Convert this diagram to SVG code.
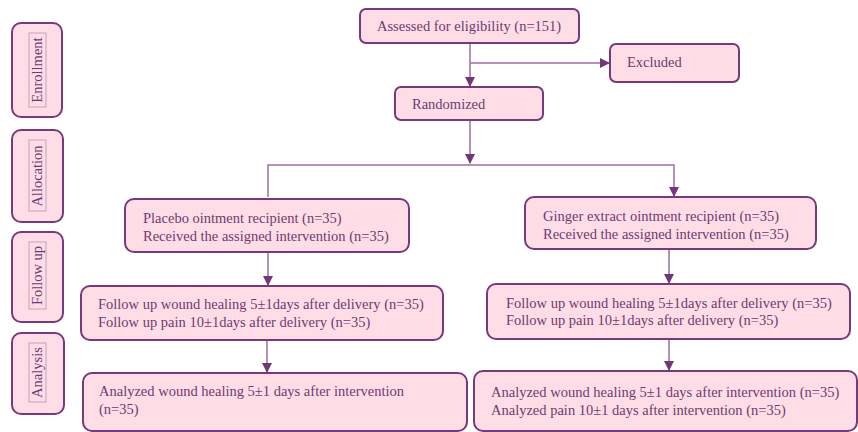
<svg xmlns="http://www.w3.org/2000/svg" width="858" height="432" viewBox="0 0 858 432">
<style>
.box{fill:#FFDDE6;stroke:#76397A;stroke-width:2}
.inner{fill:none;stroke:#A98AAB;stroke-width:0.7}
.t{font-family:"Liberation Serif","Times New Roman",serif;font-size:14.5px;fill:#6E3B70}
.c{fill:none;stroke:#9D6FA0;stroke-width:1.5}
</style>
<defs>
<marker id="ah" markerWidth="10" markerHeight="10" refX="9" refY="5" orient="auto" markerUnits="userSpaceOnUse">
<path d="M0,0 L10,5 L0,10 Z" fill="#74367A"/>
</marker>
</defs>
<rect width="858" height="432" fill="#FFFFFF"/>
<g id="stage-enrollment">
<rect class="box" x="12" y="23" width="50" height="94" rx="9"/>
<rect class="inner" x="29" y="33" width="17" height="74"/>
<text class="t" transform="translate(42,70) rotate(-90)" text-anchor="middle">Enrollment</text>
</g>
<g id="stage-allocation">
<rect class="box" x="12" y="130" width="51" height="92" rx="9"/>
<rect class="inner" x="29" y="140" width="17" height="71"/>
<text class="t" transform="translate(42,176) rotate(-90)" text-anchor="middle">Allocation</text>
</g>
<g id="stage-followup">
<rect class="box" x="12" y="232" width="51" height="90" rx="9"/>
<rect class="inner" x="29" y="242" width="17" height="67"/>
<text class="t" transform="translate(42,275.5) rotate(-90)" text-anchor="middle">Follow up</text>
</g>
<g id="stage-analysis">
<rect class="box" x="12" y="333" width="52" height="81" rx="9"/>
<rect class="inner" x="29" y="343" width="17" height="59"/>
<text class="t" transform="translate(42,372.5) rotate(-90)" text-anchor="middle">Analysis</text>
</g>
<g id="connectors">
<path class="c" d="M470,43 V86" marker-end="url(#ah)"/>
<path class="c" d="M470,63 H609" marker-end="url(#ah)"/>
<path class="c" d="M470,120 V163" marker-end="url(#ah)"/>
<path class="c" d="M268,197 V165 H674 V196" marker-end="url(#ah)"/>
<path class="c" d="M268,252 V285" marker-end="url(#ah)"/>
<path class="c" d="M669,249 V283" marker-end="url(#ah)"/>
<path class="c" d="M267,340 V372" marker-end="url(#ah)"/>
<path class="c" d="M669,339 V370" marker-end="url(#ah)"/>
</g>
<g id="assessed">
<rect class="box" x="360" y="9" width="219" height="34" rx="6"/>
<text class="t" x="377" y="31">Assessed for eligibility (n=151)</text>
</g>
<g id="excluded">
<rect class="box" x="610" y="44" width="129" height="38" rx="6"/>
<text class="t" x="627" y="67">Excluded</text>
</g>
<g id="randomized">
<rect class="box" x="395" y="87" width="148" height="33" rx="6"/>
<text class="t" x="412" y="109">Randomized</text>
</g>
<g id="placebo">
<rect class="box" x="125" y="199" width="284" height="53" rx="9"/>
<text class="t" x="143" y="223">Placebo ointment recipient (n=35)</text>
<text class="t" x="143" y="241">Received the assigned intervention (n=35)</text>
</g>
<g id="ginger">
<rect class="box" x="525" y="197" width="291" height="52" rx="9"/>
<text class="t" x="543" y="221">Ginger extract ointment recipient (n=35)</text>
<text class="t" x="543" y="239">Received the assigned intervention (n=35)</text>
</g>
<g id="followup-left">
<rect class="box" x="81" y="286" width="362" height="54" rx="9"/>
<text class="t" x="98" y="309">Follow up wound healing 5±1days after delivery (n=35)</text>
<text class="t" x="98" y="327">Follow up pain 10±1days after delivery (n=35)</text>
</g>
<g id="followup-right">
<rect class="box" x="487" y="284" width="363" height="55" rx="9"/>
<text class="t" x="506" y="308">Follow up wound healing 5±1days after delivery (n=35)</text>
<text class="t" x="506" y="325">Follow up pain 10±1days after delivery (n=35)</text>
</g>
<g id="analysis-left">
<rect class="box" x="83" y="373" width="384" height="58" rx="9"/>
<text class="t" x="99" y="396">Analyzed wound healing 5±1 days after intervention</text>
<text class="t" x="99" y="414">(n=35)</text>
</g>
<g id="analysis-right">
<rect class="box" x="474" y="371" width="383" height="60" rx="9"/>
<text class="t" x="491" y="397">Analyzed wound healing 5±1 days after intervention (n=35)</text>
<text class="t" x="491" y="415">Analyzed pain 10±1 days after intervention (n=35)</text>
</g>
</svg>
